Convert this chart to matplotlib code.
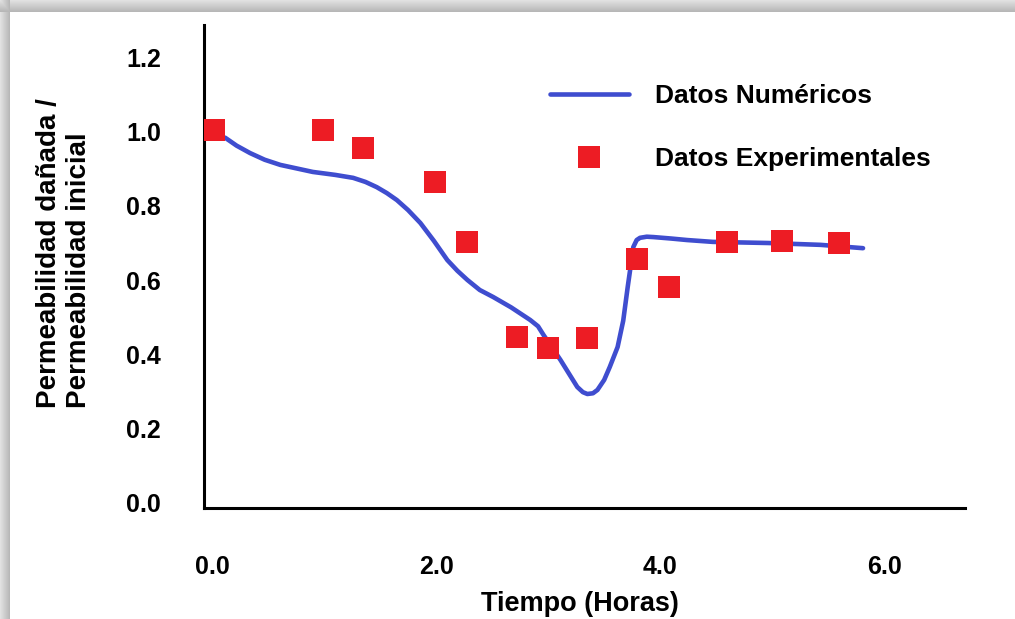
import numpy as np
import matplotlib
matplotlib.use('Agg')
import matplotlib.pyplot as plt

plt.rcParams['font.family'] = ['Liberation Sans', 'DejaVu Sans']
plt.rcParams['font.weight'] = 'bold'

# ---- data ----
t_num = [0.01, 0.12, 0.22, 0.34, 0.47, 0.61, 0.90, 1.10, 1.26, 1.37, 1.47, 1.56, 1.65,
         1.75, 1.86, 1.98, 2.10, 2.19, 2.28, 2.39, 2.51, 2.67, 2.84, 2.91, 2.96,
         3.03, 3.11, 3.19, 3.26, 3.31, 3.35, 3.40, 3.44, 3.50, 3.55, 3.62, 3.67,
         3.71, 3.74, 3.76, 3.79, 3.82, 3.88, 3.94, 4.10, 4.24, 4.47, 4.96, 5.43, 5.81]
k_num = [0.995, 0.984, 0.963, 0.943, 0.925, 0.911, 0.892, 0.884, 0.876, 0.865, 0.851, 0.835, 0.816,
         0.789, 0.754, 0.706, 0.654, 0.625, 0.600, 0.573, 0.554, 0.526, 0.492, 0.475, 0.451,
         0.420, 0.384, 0.345, 0.311, 0.297, 0.292, 0.294, 0.303, 0.330, 0.365, 0.419, 0.490,
         0.581, 0.645, 0.689, 0.708, 0.714, 0.717, 0.716, 0.712, 0.708, 0.703, 0.700, 0.695, 0.686]

t_exp = [0.02, 0.99, 1.35, 1.99, 2.28, 2.72, 3.00, 3.35, 3.79, 4.08, 4.60, 5.09, 5.60]
k_exp = [1.005, 1.005, 0.957, 0.865, 0.703, 0.446, 0.416, 0.443, 0.657, 0.581, 0.703, 0.705, 0.700]

xticks = [0, 2, 4, 6]
xtick_labels = ['0.0', '2.0', '4.0', '6.0']
yticks = [0.0, 0.2, 0.4, 0.6, 0.8, 1.0, 1.2]
ytick_labels = ['0.0', '0.2', '0.4', '0.6', '0.8', '1.0', '1.2']

W, H = 1015, 619
fig = plt.figure(figsize=(W / 100, H / 100), dpi=100)

# shadow frame behind the panel
bg = fig.add_axes([0, 0, 1, 1], zorder=-5)
img = np.ones((H, W))
top_band, left_band = 12, 10
for i in range(top_band):
    img[i, :] = np.minimum(img[i, :], 0.88 - 0.18 * i / top_band)
for j in range(left_band):
    img[:, j] = np.minimum(img[:, j], 0.88 - 0.18 * j / left_band)
bg.imshow(img, cmap='gray', vmin=0, vmax=1, aspect='auto', interpolation='bilinear')
bg.axis('off')

ax = fig.add_axes([204 / W, 1 - 508 / H, (965 - 204) / W, (508 - 25) / H])
ax.patch.set_alpha(0)

ax.plot(t_num, k_num, color='#3f4dcf', lw=3.3, solid_capstyle='round',
        solid_joinstyle='round', label='Datos Numéricos', zorder=2)
ax.plot(t_exp, k_exp, 's', color='#ed1c24', markersize=15.5, markeredgewidth=0,
        label='Datos Experimentales', zorder=3)

ax.set_xlim(-0.071, 6.72)
ax.set_ylim(-0.016, 1.289)

for s in ['top', 'right']:
    ax.spines[s].set_visible(False)
for s in ['left', 'bottom']:
    ax.spines[s].set_linewidth(2.2)
    ax.spines[s].set_color('black')

ax.set_xticks(xticks)
ax.set_xticklabels(xtick_labels, fontsize=18, fontweight='bold')
ax.set_yticks(yticks)
ax.set_yticklabels(ytick_labels, fontsize=18, fontweight='bold')
ax.tick_params(axis='both', length=0)
ax.tick_params(axis='x', pad=34)
ax.tick_params(axis='y', pad=31)

ax.set_xlabel('Tiempo (Horas)', fontsize=19.5, fontweight='bold', va='center')
ax.xaxis.set_label_coords(0.494, -0.199)

ax.set_ylabel('Permeabilidad dañada /\nPermeabilidad inicial', fontsize=20,
              fontweight='bold', multialignment='left', va='center', ha='center',
              rotation_mode='default')
ax.yaxis.set_label_coords(-0.184, 0.528)

leg = ax.legend(loc='upper left', bbox_to_anchor=(0.423, 0.926), frameon=False,
                prop={'size': 19, 'weight': 'bold'}, handlelength=3.0,
                handletextpad=1.0, labelspacing=1.45, borderpad=0.4)

fig.savefig('out.png', dpi=100)
